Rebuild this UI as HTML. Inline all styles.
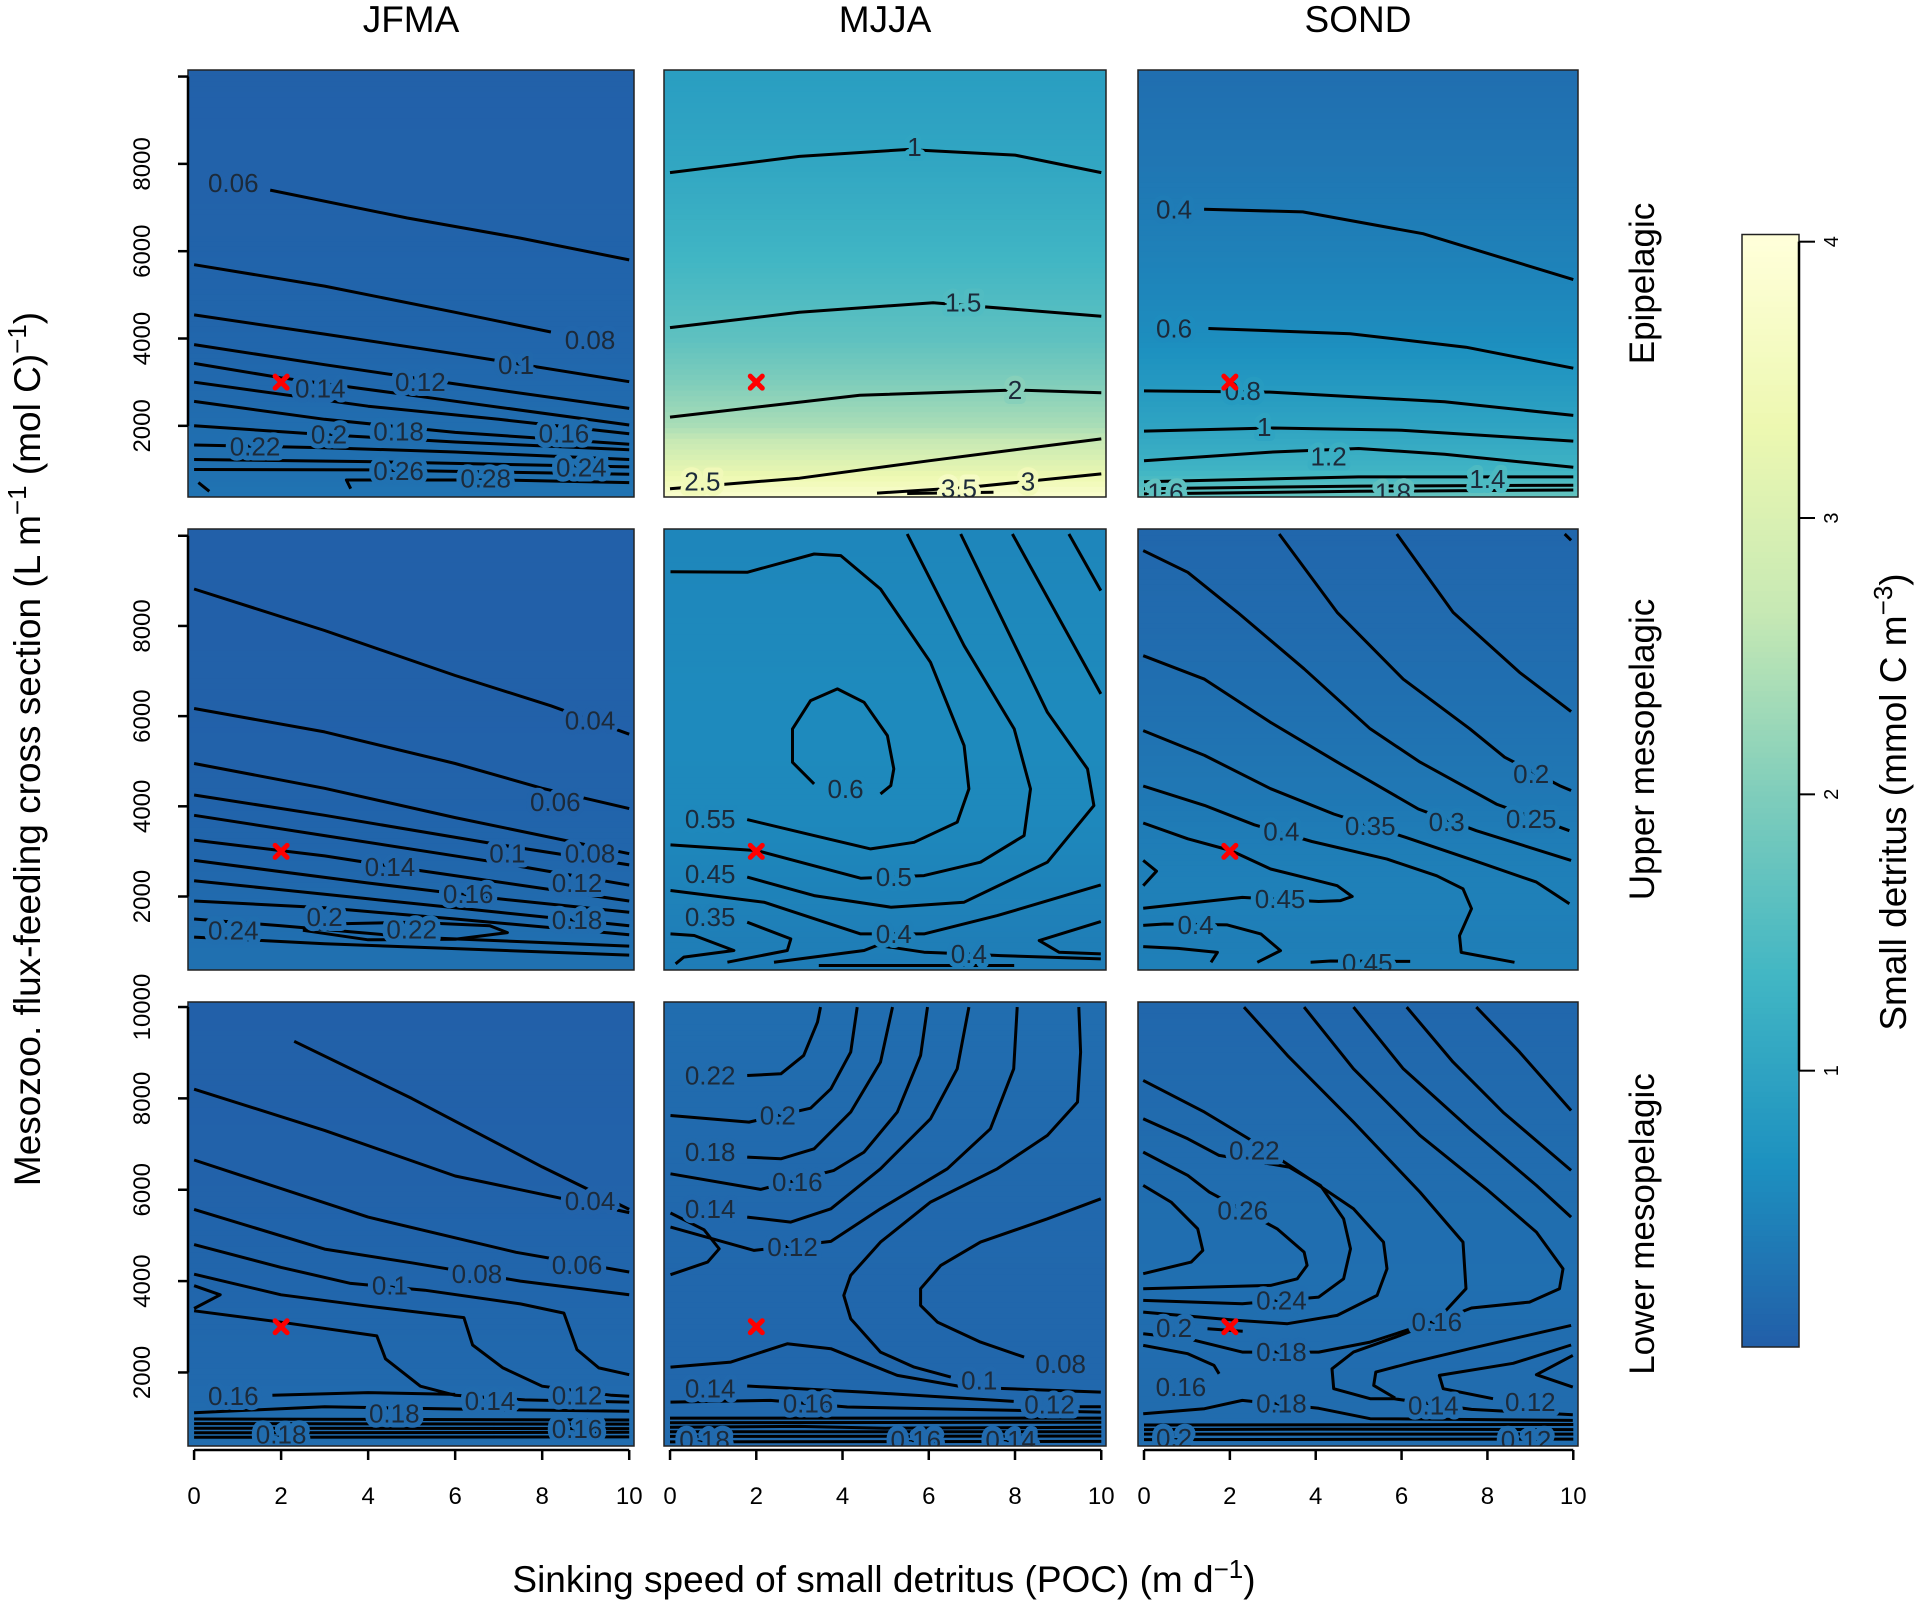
<!DOCTYPE html>
<html><head><meta charset="utf-8"><style>
html,body{margin:0;padding:0;background:#fff;}
svg{display:block;font-family:"Liberation Sans",sans-serif;}
</style></head><body>
<svg id="chart" width="1925" height="1604" viewBox="0 0 1925 1604" xmlns="http://www.w3.org/2000/svg"></svg>
<script>
// ---- data ----
const seasons = ['JFMA','MJJA','SOND'];
const layers = ['Epipelagic','Upper mesopelagic','Lower mesopelagic'];
const xTicks = [0,2,4,6,8,10];
const yTicksTop = [2000,4000,6000,8000,10000];
const yTickLabelsTop = ['2000','4000','6000','8000',''];
const yTicksBottom = [2000,4000,6000,8000,10000];
const cbTicks = [1,2,3,4];
const bgLevels = [400,1000,2000,3000,4000,6000,8000,10000];
const bgA = [0.28,0.24,0.2,0.14,0.1,0.07,0.05,0.04];
const bgB = [3.8,3.2,2.4,2.0,1.65,1.3,1.05,0.9];
const bgC = [1.7,1.3,1.0,0.8,0.62,0.45,0.32,0.22];
const bgD = [0.25,0.22,0.16,0.1,0.07,0.04,0.03,0.02];
const bgE = [0.4,0.42,0.47,0.52,0.56,0.58,0.56,0.52];
const bgF = [0.45,0.42,0.45,0.42,0.35,0.25,0.17,0.12];
const bgG = [0.2,0.18,0.14,0.12,0.1,0.06,0.04,0.03];
const bgH = [0.16,0.15,0.12,0.12,0.12,0.14,0.17,0.2];
const bgI = [0.2,0.18,0.18,0.2,0.22,0.2,0.16,0.12];
const marker = [2,3000];

const contA = [
 {t:'0.06',p:[[1.75,7400],[4.9,6760],[7.5,6300],[10,5800]],l:[0.9,7560]},
 {t:'0.08',p:[[0,5690],[3,5200],[6,4600],[8.2,4150]],l:[9.1,3970]},
 {t:'0.1',p:[[0,4540],[3,4100],[6,3650],[10,3010]],l:[7.4,3390]},
 {t:'0.12',p:[[0,3860],[3,3400],[6,2960],[10,2400]],l:[5.2,3000]},
 {t:'0.14',p:[[0,3430],[2,3100],[5,2700],[10,2020]],l:[2.9,2860]},
 {t:'0.16',p:[[0,3000],[4,2450],[7,2150],[10,1820]],l:[8.5,1830]},
 {t:'0.18',p:[[0,2560],[3,2150],[6,1850],[10,1580]],l:[4.7,1870]},
 {t:'0.2',p:[[0,2000],[3,1800],[6,1630],[10,1450]],l:[3.1,1800]},
 {t:'0.22',p:[[0,1560],[3,1500],[6,1400],[10,1230]],l:[1.4,1530]},
 {t:'0.24',p:[[0,1230],[4,1180],[10,1060]],l:[8.9,1050]},
 {t:'0.26',p:[[0,1000],[4,990],[10,890]],l:[4.7,970]},
 {t:'0.28',p:[[3.6,560],[3.5,760],[7,760],[10,700]],l:[6.7,790]},
 {t:'',p:[[0.1,700],[0.35,500]],l:null}
];
const contB = [
 {t:'1',p:[[0,7800],[3,8170],[5.5,8330],[8,8200],[10,7800]],l:[5.67,8390]},
 {t:'1.5',p:[[0,4250],[3,4600],[6.1,4820],[10,4510]],l:[6.8,4820]},
 {t:'2',p:[[0,2200],[4.4,2700],[8,2820],[10,2760]],l:[8,2820]},
 {t:'2.5',p:[[0,560],[3,800],[6,1200],[8,1450],[10,1700]],l:[0.75,730]},
 {t:'3',p:[[4.8,460],[7,600],[10,900]],l:[8.3,730]},
 {t:'3.5',p:[[5.5,450],[7.5,480]],l:[6.7,560]}
];
const contC = [
 {t:'0.4',p:[[1.4,6960],[3.7,6900],[6.5,6400],[10,5350]],l:[0.7,6960]},
 {t:'0.6',p:[[1.5,4230],[4.8,4110],[7.5,3800],[10,3320]],l:[0.7,4230]},
 {t:'0.8',p:[[0,2800],[3,2770],[7,2550],[10,2240]],l:[2.3,2800]},
 {t:'1',p:[[0,1880],[3,1950],[6,1900],[10,1650]],l:[2.8,1970]},
 {t:'1.2',p:[[0,1200],[3,1400],[5,1480],[7,1350],[10,1050]],l:[4.3,1300]},
 {t:'1.4',p:[[0,720],[5,830],[10,830]],l:[8,780]},
 {t:'1.6',p:[[0,560],[5,620],[10,640]],l:[0.5,470]},
 {t:'1.8',p:[[0,440],[5,500],[10,530]],l:[5.8,470]}
];
const contD = [
 {t:'0.04',p:[[0,8820],[3,7900],[6,6900],[8.2,6230],[10,5600]],l:[9.1,5900]},
 {t:'0.06',p:[[0,6170],[3,5650],[6,4950],[8,4400],[10,3950]],l:[8.3,4100]},
 {t:'0.08',p:[[0,4950],[3,4400],[6,3750],[10,2950]],l:[9.1,2950]},
 {t:'0.1',p:[[0,4250],[3,3800],[7,3150],[10,2700]],l:[7.2,2950]},
 {t:'0.12',p:[[0,3800],[3,3350],[7,2750],[10,2250]],l:[8.8,2300]},
 {t:'0.14',p:[[0,3250],[3,2900],[5,2600],[10,1900]],l:[4.5,2650]},
 {t:'0.16',p:[[0,2800],[4,2300],[7,1950],[10,1650]],l:[6.3,2050]},
 {t:'0.18',p:[[0,2350],[4,1950],[7,1650],[10,1350]],l:[8.8,1480]},
 {t:'0.2',p:[[0,1900],[3,1750],[6,1500],[10,1150]],l:[3.0,1550]},
 {t:'0.22',p:[[2.5,1250],[3.5,1400],[5,1430],[6.8,1350],[7.2,1200],[6,1050],[4,1040],[2.5,1250]],l:[5.0,1270]},
 {t:'0.24',p:[[0,1500],[2,1350],[5,1100],[10,900]],l:[0.9,1250]},
 {t:'',p:[[0,1100],[3,950],[10,700]],l:null}
];
const contE = [
 {t:'0.55',p:[[0.01,9204],[1.79,9189],[3.34,9596],[3.96,9559],[4.88,8820],[6.04,7194],[6.82,5346],[6.93,4386],[6.66,3647],[5.66,3203],[4.65,3056],[3.34,3351],[1.79,3706]],l:[0.93,3720]},
 {t:'0.5',p:[[0.01,3144],[2.02,3019],[4.42,2405],[5.89,2464],[7.2,2760],[8.21,3351],[8.36,4386],[7.98,5716],[6.82,7563],[5.5,10039]],l:[5.19,2430]},
 {t:'0.45',p:[[1.79,2430],[3.34,2021],[5.12,1762],[6.82,1873],[8.75,2760],[9.83,4016],[9.68,4829],[8.75,6085],[6.74,10039]],l:[0.93,2500]},
 {t:'',p:[[7.94,10039],[9.99,6492]],l:null},
 {t:'',p:[[9.25,10039],[9.99,8783]],l:null},
 {t:'0.4',p:[[0.01,2132],[2.18,1873],[4.42,1171],[5.89,1171],[7.59,1577],[9.99,2257]],l:[5.19,1171]},
 {t:'0.35',p:[[1.79,1430],[2.8,1060],[2.72,802],[1.33,543]],l:[0.93,1540]},
 {t:'',p:[[0.01,1171],[0.56,1134],[1.48,802],[0.32,655],[0.13,507]],l:null},
 {t:'0.4',p:[[2.41,543],[4.5,802],[4.8,913],[5.12,876],[5.89,765],[6.28,750],[7.67,690],[9.99,617]],l:[6.93,728]},
 {t:'',p:[[3.45,470],[7.98,470]],l:null},
 {t:'',p:[[9.99,1444],[8.56,1023],[9.02,765],[9.99,728]],l:null},
 {t:'0.6',p:[[3.34,4497],[2.84,4977],[2.84,5716],[3.26,6344],[3.88,6603],[4.5,6307],[5.04,5568],[5.19,4829],[5.12,4460],[4.88,4275]],l:[4.07,4386]}
];
const contF = [
 {t:'0.25',p:[[-0.02,9670],[1.02,9190],[2.18,8300],[3.73,7050],[5.27,5720],[6.43,4980],[8.21,4050],[9.91,3460]],l:[9.02,3720]},
 {t:'0.2',p:[[3.15,10040],[4.5,8300],[6.04,6820],[7.59,5720],[8.4,5090],[9.68,4460],[9.95,4350]],l:[9.02,4720]},
 {t:'',p:[[5.89,10040],[7.2,8300],[8.75,6970],[9.95,6100]],l:null},
 {t:'',p:[[9.8,10040],[9.95,9900]],l:null},
 {t:'0.3',p:[[-0.02,7340],[1.41,6820],[2.95,5860],[4.5,4980],[6.39,3940],[7.74,3460],[9.95,2800]],l:[7.05,3650]},
 {t:'0.35',p:[[-0.02,5680],[1.41,5130],[2.95,4390],[4.42,3830],[6.1,3310],[7.59,2830],[9.14,2320],[9.91,1840]],l:[5.27,3560]},
 {t:'0.4',p:[[-0.02,4450],[1.41,4020],[2.57,3590],[3.91,3220],[5.66,2830],[6.82,2460],[7.43,2170],[7.63,1730],[7.35,1130],[7.39,760],[8.63,540]],l:[3.2,3440]},
 {t:'0.45',p:[[-0.02,3630],[1.02,3280],[2.02,3020],[2.95,2610],[3.88,2390],[4.5,2240],[4.85,2000],[4.58,1910],[4.07,1890],[2.29,1980],[-0.02,1740]],l:[3.17,1950]},
 {t:'',p:[[-0.02,2800],[0.29,2560],[-0.02,2240]],l:null},
 {t:'0.4',p:[[-0.02,1360],[0.48,1390],[1.94,1370],[2.72,1170],[3.18,800],[2.64,540]],l:[1.2,1370]},
 {t:'',p:[[-0.02,890],[0.79,850],[1.71,760],[1.56,540]],l:null},
 {t:'0.45',p:[[3.88,540],[4.35,570],[6.2,560]],l:[5.2,530]}
];
const contG = [
 {t:'',p:[[2.3,9250],[5,8000],[8,6500],[10,5570]],l:null},
 {t:'0.04',p:[[0,8200],[3,7300],[6,6300],[10,5500]],l:[9.1,5750]},
 {t:'0.06',p:[[0,6650],[4,5400],[7.4,4630],[10,4200]],l:[8.8,4350]},
 {t:'0.08',p:[[0,5570],[3,4700],[5,4400],[7.5,4000],[10,3700]],l:[6.5,4150]},
 {t:'0.1',p:[[0,4800],[2,4300],[3.6,3950],[5.3,3800],[7.5,3500],[8.5,3300],[8.8,2500],[9.3,2100],[10,1950]],l:[4.5,3900]},
 {t:'0.12',p:[[0,4150],[2,3700],[4,3450],[6.2,3200],[6.4,2600],[7.1,2100],[8,1700],[9.6,1500],[10,1480]],l:[8.8,1500]},
 {t:'0.14',p:[[0,3350],[2,3100],[4.2,2800],[4.4,2300],[5.2,1700],[6,1500],[7.6,1400],[10,1350]],l:[6.8,1380]},
 {t:'',p:[[0,3900],[0.6,3700],[0,3400]],l:null},
 {t:'0.16',p:[[1.8,1500],[4,1560],[6,1520]],l:[0.9,1490]},
 {t:'0.18',p:[[0,1120],[3,1250],[6,1200],[10,1150]],l:[4.6,1100]},
 {t:'',p:[[0,980],[10,960]],l:null},
 {t:'',p:[[0,880],[10,870]],l:null},
 {t:'0.16',p:[[0,780],[10,770]],l:[8.8,760]},
 {t:'0.18',p:[[0,680],[10,690]],l:[2,640]},
 {t:'',p:[[0,580],[10,590]],l:null}
];
const contH = [
 {t:'0.22',p:[[1.79,8502],[2.57,8539],[3.1,8940],[3.42,9670],[3.49,9998]],l:[0.93,8502]},
 {t:'0.2',p:[[0.01,7626],[1.83,7480],[3.26,7786],[3.73,8210],[4.19,9013],[4.34,9998]],l:[2.5,7626]},
 {t:'0.18',p:[[1.79,6715],[2.57,6678],[3.34,6897],[4.19,7700],[4.88,8794],[5.16,9998]],l:[0.93,6824]},
 {t:'0.16',p:[[0.01,6350],[2.1,6007],[3.8,6423],[4.5,6824],[5.27,7700],[5.81,8940],[5.97,9998]],l:[2.95,6168]},
 {t:'0.14',p:[[1.79,5401],[2.8,5292],[3.73,5583],[4.88,6459],[6.04,7554],[6.66,8648],[6.93,9998]],l:[0.93,5583]},
 {t:'0.12',p:[[0.01,5183],[1.95,4671],[3.73,4869],[4.88,5583],[6.43,6459],[7.43,7334],[7.97,8648],[8.05,9998]],l:[2.84,4745]},
 {t:'0.1',p:[[9.48,9998],[9.52,9012],[9.45,7918],[8.75,7189],[7.59,6459],[6.04,5729],[4.88,4854],[4.19,4124],[4.03,3687],[4.19,3176],[4.88,2446],[5.66,2118],[6.51,1899]],l:[7.17,1827]},
 {t:'0.08',p:[[9.99,5802],[8.75,5364],[7.2,4854],[6.28,4343],[5.81,3833],[5.81,3468],[6.2,3103],[7.2,2665],[8.21,2337]],l:[9.06,2190]},
 {t:'',p:[[0.01,5490],[0.79,5124],[1.14,4708],[0.87,4416],[0.01,4140]],l:null},
 {t:'',p:[[0.01,2118],[1.41,2227],[2.72,2628],[3.73,2519],[5.27,1935],[6.82,1680],[9.99,1571]],l:null},
 {t:'0.14',p:[[1.79,1703],[4.5,1571],[7.97,1366]],l:[0.93,1644]},
 {t:'0.16',p:[[0.01,1352],[2.33,1388],[4.11,1243],[9.99,1133]],l:[3.2,1315]},
 {t:'0.12',p:[[9.5,1250],[9.99,1250]],l:[8.8,1300]},
 {t:'',p:[[0,1000],[10,1000]],l:null},
 {t:'',p:[[0,900],[10,910]],l:null},
 {t:'',p:[[0,800],[3,820],[5,780],[10,800]],l:null},
 {t:'0.16',p:[[0,700],[10,700]],l:[5.7,520]},
 {t:'0.18',p:[[0,600],[10,610]],l:[0.8,520]},
 {t:'0.14',p:[[0,480],[10,490]],l:[7.9,520]}
];
const contI = [
 {t:'',p:[[7.74,9998],[8.75,9013],[9.95,7735]],l:null},
 {t:'',p:[[6.12,9998],[7.2,8794],[8.36,7699],[9.95,6423]],l:null},
 {t:'',p:[[4.88,9998],[6.04,8648],[7.59,7334],[9.14,6094],[9.95,5401]],l:null},
 {t:'0.16',p:[[3.73,9998],[4.88,8648],[6.43,7189],[7.97,6021],[9.14,5073],[9.76,4270],[9.68,3833],[8.98,3540],[7.63,3410],[5.97,2811],[4.88,2446],[4.38,2081],[4.42,1644],[5.27,1425],[5.81,1425],[7.63,1192],[9.99,1075]],l:[6.82,3100]},
 {t:'0.14',p:[[9.95,3030],[7.59,2519],[6.28,2227],[5.4,2008],[5.35,1717],[5.85,1440]],l:[6.74,1279]},
 {t:'0.12',p:[[9.95,2600],[8.6,2200],[6.88,1935],[6.97,1644],[8.13,1425]],l:[9.0,1352]},
 {t:'',p:[[9.99,2373],[9.14,1950],[9.99,1680]],l:null},
 {t:'',p:[[-0.02,6094],[0.63,5729],[1.25,5146],[1.37,4671],[1.1,4416],[-0.02,4161]],l:null},
 {t:'0.26',p:[[-0.02,6824],[1.02,6313],[1.52,5948],[3.1,5146],[3.73,4635],[3.8,4343],[3.57,4051],[2.95,3906],[-0.02,3833]],l:[2.3,5547]},
 {t:'0.22',p:[[-0.02,7554],[1.02,7116],[1.75,6751],[3.38,6496],[4.11,6094],[4.65,5364],[4.81,4708],[4.65,4051],[4.07,3650],[2.29,3504],[-0.02,3577]],l:[2.57,6860]},
 {t:'0.24',p:[[-0.02,8394],[1.41,7700],[2.57,7043],[3.73,6313],[4.88,5583],[5.58,4854],[5.66,4270],[5.43,3687],[4.5,3249],[3.34,3067],[2.18,3140],[-0.02,3322]],l:[3.2,3577]},
 {t:'0.18',p:[[2.33,9998],[3.34,8940],[4.88,7480],[6.43,5948],[7.43,4854],[7.5,3833],[6.82,3140],[5.27,2665],[4.07,2446],[2.29,2446],[1.02,2738],[-0.02,2847]],l:[3.2,2446]},
 {t:'0.2',p:[[1.48,2957],[2.3,2900]],l:[0.7,2975]},
 {t:'0.16',p:[[-0.02,2592],[1.02,2410],[1.63,2154],[1.75,1971]],l:[0.86,1680]},
 {t:'0.18',p:[[-0.02,1097],[1.41,1206],[2.29,1388],[4.07,1215],[5.27,987],[9.99,950]],l:[3.2,1315]},
 {t:'',p:[[0,850],[10,860]],l:null},
 {t:'',p:[[0,750],[4,760],[10,750]],l:null},
 {t:'0.2',p:[[0,650],[10,650]],l:[0.7,560]},
 {t:'0.12',p:[[0,530],[10,540]],l:[8.9,520]}
];

const panels = [
 {name:'jfma-epipelagic',c:0,r:0,bg:bgA,ct:contA},
 {name:'mjja-epipelagic',c:1,r:0,bg:bgB,ct:contB},
 {name:'sond-epipelagic',c:2,r:0,bg:bgC,ct:contC},
 {name:'jfma-upper-mesopelagic',c:0,r:1,bg:bgD,ct:contD},
 {name:'mjja-upper-mesopelagic',c:1,r:1,bg:bgE,ct:contE},
 {name:'sond-upper-mesopelagic',c:2,r:1,bg:bgF,ct:contF},
 {name:'jfma-lower-mesopelagic',c:0,r:2,bg:bgG,ct:contG},
 {name:'mjja-lower-mesopelagic',c:1,r:2,bg:bgH,ct:contH},
 {name:'sond-lower-mesopelagic',c:2,r:2,bg:bgI,ct:contI}
];

// ---- layout ----
const colX0=[188,664,1138], colX1=[634,1106,1578];
const rowY0=[70,529,1002], rowY1=[497,970,1446];
const xDom=[-0.14,10.11];
const yDoms=[[370,10150],[370,10150],[390,10110]];
const NS='http://www.w3.org/2000/svg';
const svg=document.getElementById('chart');
function mk(tag,attrs,parent){const e=document.createElementNS(NS,tag);for(const k in attrs)e.setAttribute(k,attrs[k]);(parent||svg).appendChild(e);return e;}
function sx(c,v){return colX0[c]+(v-xDom[0])/(xDom[1]-xDom[0])*(colX1[c]-colX0[c]);}
function sy(r,v){const d=yDoms[r];return rowY1[r]-(v-d[0])/(d[1]-d[0])*(rowY1[r]-rowY0[r]);}
const cStops=[0,0.667,1.333,2,2.667,3.333,4];
const cCols=['#225ea8','#1d91c0','#41b6c4','#7fcdbb','#c7e9b4','#edf8b1','#ffffd9'];
function hx(h){return [1,3,5].map(i=>parseInt(h.substr(i,2),16));}
function col(v){v=Math.max(0,Math.min(4,v));let i=0;while(i<cStops.length-2&&v>cStops[i+1])i++;const t=(v-cStops[i])/(cStops[i+1]-cStops[i]);const a=hx(cCols[i]),b=hx(cCols[i+1]);return 'rgb('+a.map((x,k)=>Math.round(x+(b[k]-x)*t)).join(',')+')';}
function bgVal(arr,y){if(y<=bgLevels[0])return arr[0];for(let i=0;i<bgLevels.length-1;i++){if(y<=bgLevels[i+1]){const t=(y-bgLevels[i])/(bgLevels[i+1]-bgLevels[i]);return arr[i]+(arr[i+1]-arr[i])*t;}}return arr[arr.length-1];}

// ---- panels ----
panels.forEach(P=>{
 const g=mk('g',{});
 
 
 const clipId='clip-'+P.name;
 const cp=mk('clipPath',{id:clipId},g);
 mk('rect',{x:colX0[P.c],y:rowY0[P.r],width:colX1[P.c]-colX0[P.c],height:rowY1[P.r]-rowY0[P.r]},cp);
 const inner=mk('g',{'clip-path':'url(#'+clipId+')'},g);
 const d=yDoms[P.r];const N=80;
 for(let i=0;i<N;i++){
  const y0=d[0]+(d[1]-d[0])*i/N, y1=d[0]+(d[1]-d[0])*(i+1)/N;
  const rr=mk('rect',{x:colX0[P.c],y:sy(P.r,y1)-0.5,width:colX1[P.c]-colX0[P.c],height:sy(P.r,y0)-sy(P.r,y1)+1,fill:col(bgVal(P.bg,(y0+y1)/2))},inner);
  
  
 }
 P.ct.forEach(C=>{
  const pl=mk('polyline',{points:C.p.map(q=>sx(P.c,q[0]).toFixed(1)+','+sy(P.r,q[1]).toFixed(1)).join(' '),fill:'none',stroke:'#000','stroke-width':3,'stroke-linejoin':'round'},inner);
  
  
 });
 P.ct.forEach(C=>{
  if(!C.l)return;
  const bgc=col(bgVal(P.bg,C.l[1]));
  const tx=mk('text',{x:sx(P.c,C.l[0]),y:sy(P.r,C.l[1])+9,'text-anchor':'middle','font-size':26,fill:'#1c2a3a',stroke:bgc,'stroke-width':10,'paint-order':'stroke','stroke-linejoin':'round'},inner);
  tx.textContent=C.t;
  
  
 });
 const mx=sx(P.c,marker[0]), my=sy(P.r,marker[1]);
 const mg=mk('g',{stroke:'#ff0000','stroke-width':5,'stroke-linecap':'round'},g);
 
 
 mk('line',{x1:mx-6,y1:my-6,x2:mx+6,y2:my+6},mg);
 mk('line',{x1:mx-6,y1:my+6,x2:mx+6,y2:my-6},mg);
 const bd=mk('rect',{x:colX0[P.c],y:rowY0[P.r],width:colX1[P.c]-colX0[P.c],height:rowY1[P.r]-rowY0[P.r],fill:'none',stroke:'#222','stroke-width':1.5},g);
 
 
});

// ---- axes ----
for(let r=0;r<3;r++){
 const ticks = r<2?yTicksTop:yTicksBottom;
 const labs = r<2?yTickLabelsTop:yTicksBottom.map(String);
 const ax=mk('line',{x1:colX0[0],x2:colX0[0],y1:sy(r,ticks[0]),y2:sy(r,ticks[ticks.length-1]),stroke:'#000','stroke-width':2.5});
 
 
 ticks.forEach((t,i)=>{
  const y=sy(r,t);
  const tk=mk('line',{x1:colX0[0]-10,x2:colX0[0],y1:y,y2:y,stroke:'#000','stroke-width':2.5});
  
  
  if(labs[i]){
   const tx=mk('text',{x:150,y:y,'text-anchor':'middle','font-size':24,transform:'rotate(-90 150 '+y+')'});
   tx.textContent=labs[i];
   
   
  }
 });
}
for(let c=0;c<3;c++){
 const yb=rowY1[2]+4;
 const ax=mk('line',{x1:sx(c,xTicks[0]),x2:sx(c,xTicks[xTicks.length-1]),y1:yb,y2:yb,stroke:'#000','stroke-width':2.5});
 
 
 xTicks.forEach(t=>{
  const x=sx(c,t);
  const tk=mk('line',{x1:x,x2:x,y1:yb,y2:yb+10,stroke:'#000','stroke-width':2.5});
  
  
  const tx=mk('text',{x:x,y:1504,'text-anchor':'middle','font-size':24});
  tx.textContent=String(t);
  
  
 });
 const st=mk('text',{x:(colX0[c]+colX1[c])/2,y:32,'text-anchor':'middle','font-size':37});
 st.textContent=seasons[c];
 
 
}
layers.forEach((L,r)=>{
 const cy=(rowY0[r]+rowY1[r])/2;
 const tx=mk('text',{x:1654,y:cy,'text-anchor':'middle','font-size':35,transform:'rotate(-90 1654 '+cy+')'});
 tx.textContent=L;
 
 
});

// axis titles
const yt=mk('text',{x:40,y:749,'text-anchor':'middle','font-size':37,transform:'rotate(-90 40 749)'});


yt.innerHTML='Mesozoo. flux-feeding cross section (L m<tspan dy="-14" font-size="26">−1</tspan><tspan dy="14"> (mol C)</tspan><tspan dy="-14" font-size="26">−1</tspan><tspan dy="14">)</tspan>';
const xt=mk('text',{x:884,y:1592,'text-anchor':'middle','font-size':37});


xt.innerHTML='Sinking speed of small detritus (POC) (m d<tspan dy="-14" font-size="26">−1</tspan><tspan dy="14">)</tspan>';

// ---- colorbar ----
const cbX0=1742, cbX1=1799, cbTop=234.5, cbBot=1347, cbMax=4.026;
function cy(v){return cbBot-(v/cbMax)*(cbBot-cbTop);}
const cbg=mk('g',{});


for(let i=0;i<200;i++){
 const v0=cbMax*i/200, v1=cbMax*(i+1)/200;
 mk('rect',{x:cbX0,y:cy(v1)-0.5,width:cbX1-cbX0,height:cy(v0)-cy(v1)+1,fill:col((v0+v1)/2)},cbg);
}
mk('rect',{x:cbX0,y:cbTop,width:cbX1-cbX0,height:cbBot-cbTop,fill:'none',stroke:'#222','stroke-width':1.5},cbg);
mk('line',{x1:cbX1,x2:cbX1,y1:cy(cbTicks[0]),y2:cy(cbTicks[cbTicks.length-1]),stroke:'#000','stroke-width':2.5},cbg);
cbTicks.forEach(t=>{
 const y=cy(t);
 const tk=mk('line',{x1:cbX1,x2:cbX1+16,y1:y,y2:y,stroke:'#000','stroke-width':2},cbg);
 
 
 const tx=mk('text',{x:1838,y:y,'text-anchor':'middle','font-size':20,transform:'rotate(-90 1838 '+y+')'},cbg);
 tx.textContent=String(t);
 
 
});
const ct=mk('text',{x:1906,y:802,'text-anchor':'middle','font-size':37,transform:'rotate(-90 1906 802)'});


ct.innerHTML='Small detritus (mmol C m<tspan dy="-14" font-size="26">−3</tspan><tspan dy="14">)</tspan>';
</script>
</body></html>
